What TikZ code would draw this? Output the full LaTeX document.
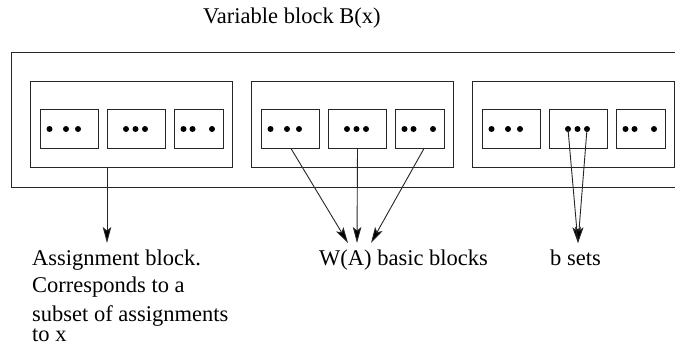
\documentclass[tikz,border=0pt]{standalone}
\usepackage{fontspec}
\setmainfont{Liberation Serif}
\usetikzlibrary{arrows.meta}
\tikzset{
  frame/.style={draw=black!85, line width=1pt},
  blk/.style={draw=black!85, line width=1pt, rectangle, inner sep=0pt, minimum height=86pt, minimum width=202pt, anchor=west},
  wbox/.style={draw=black!85, line width=1pt, rectangle, inner sep=0pt, minimum height=39pt, minimum width=58pt, anchor=west},
  nbox/.style={draw=black!85, line width=1pt, rectangle, inner sep=0pt, minimum height=39pt, minimum width=49pt, anchor=west},
  dot/.style={circle, fill=black, inner sep=0pt, minimum size=6pt},
  arr/.style={draw=black!85, line width=0.9pt, -{Stealth[length=16pt,width=8.5pt,inset=3.5pt,fill=black]}},
  lbl/.style={inner sep=0pt, anchor=base west, font=\rmfamily\fontsize{22.5}{27}\selectfont}
}
\begin{document}
\begin{tikzpicture}[x=1pt,y=-1pt]
\useasboundingbox (0,0) rectangle (675,346);
% title
\node[lbl] (title) at (203,23) {Variable block B(x)};
% outer frame (open to the right)
\draw[frame] (675,52) -- (11,52) -- (11,187) -- (675,187);
% assignment blocks
\foreach \b/\x in {1/30, 2/251, 3/472} {
  \node[blk] (A\b) at (\x,124) {};
  \node[wbox] (B\b a) at (\x+9.5,128.5) {};
  \node[wbox] (B\b b) at (\x+76.5,128.5) {};
  \node[nbox] (B\b c) at (\x+143.5,128.5) {};
  \node[dot] (D\b a1) at (\x+19.5,129) {};
  \node[dot] (D\b a2) at (\x+36,129) {};
  \node[dot] (D\b a3) at (\x+48,129) {};
  \node[dot] (D\b b1) at (\x+96,129) {};
  \node[dot] (D\b b2) at (\x+105.5,129) {};
  \node[dot] (D\b b3) at (\x+115,129) {};
  \node[dot] (D\b c1) at (\x+153.5,129) {};
  \node[dot] (D\b c2) at (\x+162.5,129) {};
  \node[dot] (D\b c3) at (\x+182,129) {};
}
% labels
\node[lbl] (asg1) at (32,265) {Assignment block.};
\node[lbl] (asg2) at (32,292) {Corresponds to a};
\node[lbl] (asg3) at (32,321) {subset of assignments};
\node[lbl] (asg4) at (32,341) {to x};
\node[lbl] (wa) at (319,265) {W(A) basic blocks};
\node[lbl] (bs) at (550,265) {b sets};
% arrow tips
\coordinate (t1) at (107,243);
\coordinate (t2a) at (348,243);
\coordinate (t2b) at (357,243);
\coordinate (t2c) at (371,243);
\coordinate (t3) at (578,243);
% connectors
\draw[arr] (t1 |- A1.south) -- (t1);
\draw[arr] ([xshift=1pt]B2a.south) -- (t2a);
\draw[arr] ([xshift=0.5pt]B2b.south) -- (t2b);
\draw[arr] ([xshift=4.5pt]B2c.south) -- (t2c);
\draw[arr] (D3b1.center) -- (t3);
\draw[arr] (D3b3.center) -- (t3);
\end{tikzpicture}
\end{document}
